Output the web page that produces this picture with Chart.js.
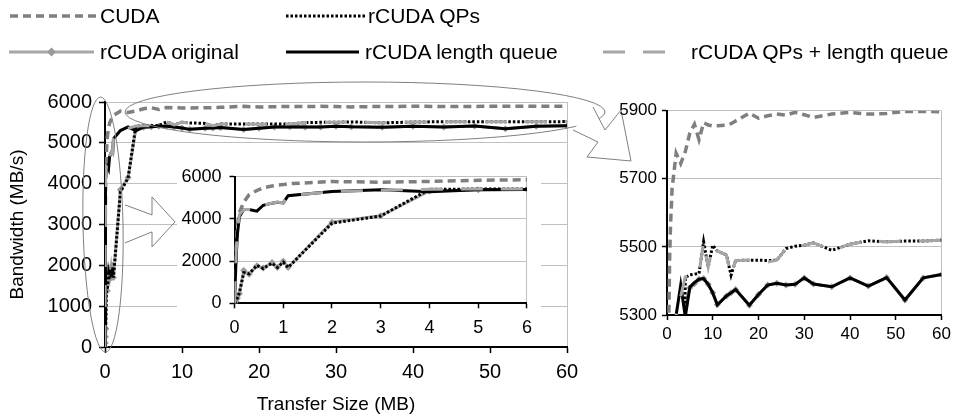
<!DOCTYPE html>
<html><head><meta charset="utf-8">
<script src="https://cdn.jsdelivr.net/npm/chart.js@4/dist/chart.umd.min.js"></script>
<style>
html,body{margin:0;padding:0;background:#fff;}
body{width:955px;height:419px;position:relative;overflow:hidden;font-family:"Liberation Sans",Arial,sans-serif;}
canvas{display:block;}
#main{position:absolute;left:0;top:0;}
#insetWrap{position:absolute;left:177px;top:158px;width:364px;height:180px;background:#fff;}
#zoomWrap{position:absolute;left:600px;top:90px;width:355px;height:270px;}
.leg{position:absolute;font-size:21px;line-height:24px;color:#000;white-space:nowrap;}
.legline{position:absolute;}
</style></head><body>
<canvas id="main" width="955" height="419"></canvas>
<div id="insetWrap"><canvas id="inset" width="364" height="180"></canvas></div>
<div id="zoomWrap"><canvas id="zoom" width="355" height="270"></canvas></div>
<div id="legend"></div>
<script>
// ---------- data ----------
const sizesMB = [0, 0.03, 0.06, 0.1, 0.19, 0.3, 0.46, 0.59, 0.77, 0.88, 1, 1.1, 2, 3, 4, 5, 6, 7, 8, 9, 10, 11, 13, 14, 15, 18, 20, 22, 24, 26, 28, 30, 32, 36, 40, 44, 48, 52, 56, 60];
const cudaBW = [0, 2600, 3700, 4300, 4800, 5150, 5350, 5480, 5560, 5600, 5630, 5670, 5775, 5745, 5780, 5835, 5860, 5815, 5865, 5858, 5855, 5856, 5858, 5862, 5870, 5893, 5878, 5885, 5890, 5887, 5895, 5888, 5880, 5890, 5895, 5890, 5892, 5898, 5898, 5897];
const qpsBW = [0, 100, 250, 500, 1450, 1400, 1800, 1650, 1900, 1700, 1950, 1700, 3800, 4140, 5410, 5418, 5420, 5422, 5515, 5441, 5505, 5488, 5476, 5417, 5460, 5461, 5461, 5460, 5461, 5495, 5502, 5505, 5512, 5490, 5508, 5518, 5515, 5517, 5517, 5520];
const originalBW = [0, 100, 250, 450, 1550, 1380, 1780, 1670, 1930, 1700, 2000, 1700, 3850, 4150, 5330, 5380, 5392, 5405, 5407, 5390, 5365, 5330, 5356, 5365, 5375, 5329, 5360, 5388, 5393, 5388, 5390, 5409, 5391, 5383, 5409, 5385, 5410, 5344, 5409, 5419];
const lengthQueueBW = [0, 2000, 3300, 4100, 4450, 4450, 4370, 4650, 4750, 4790, 4760, 5100, 5300, 5388, 5295, 5382, 5395, 5405, 5407, 5390, 5365, 5330, 5356, 5365, 5375, 5329, 5360, 5388, 5393, 5388, 5390, 5409, 5391, 5383, 5409, 5385, 5410, 5344, 5409, 5419];
const qpsLengthQueueBW = [0, 2300, 3500, 4200, 4450, 4450, 4350, 4650, 4750, 4800, 4760, 5100, 5300, 5355, 5412, 5418, 5420, 5422, 5515, 5441, 5505, 5488, 5476, 5417, 5460, 5461, 5455, 5455, 5461, 5495, 5502, 5505, 5512, 5490, 5508, 5518, 5515, 5517, 5517, 5520];
const seriesNames = ['CUDA', 'rCUDA QPs', 'rCUDA original', 'rCUDA length queue', 'rCUDA QPs + length queue'];
const mainXTicks = [0, 10, 20, 30, 40, 50, 60];
const mainYTicks = [0, 1000, 2000, 3000, 4000, 5000, 6000];
const insetXTicks = [0, 1, 2, 3, 4, 5, 6];
const insetYTicks = [0, 2000, 4000, 6000];
const zoomXTicks = [0, 10, 20, 30, 40, 50, 60];
const zoomYTicks = [5300, 5500, 5700, 5900];
const xTitle = 'Transfer Size (MB)';
const yTitle = 'Bandwidth (MB/s)';

// ---------- styles ----------
const FONT = "'Liberation Sans', Arial, sans-serif";
const GRID = '#c0c0c0';
const STY = [
  {color: '#7f7f7f', dash: [8, 5], width: 3.5, order: 4},          // CUDA
  {color: '#000000', dash: [2.5, 2], width: 3, order: 1},           // QPs
  {color: '#a6a6a6', dash: [], width: 3, order: 3, point: true},    // original
  {color: '#000000', dash: [], width: 3, order: 2},                 // length queue
  {color: '#a6a6a6', dash: [22, 18], width: 3, order: 0}            // QPs + LQ
];
const SERIES = [cudaBW, qpsBW, originalBW, lengthQueueBW, qpsLengthQueueBW];

Chart.defaults.font.family = FONT;
Chart.defaults.color = '#000';

function makeDatasets() {
  return SERIES.map((ys, i) => ({
    label: seriesNames[i],
    data: sizesMB.map((x, k) => ({x: x, y: ys[k]})),
    borderColor: STY[i].color,
    borderDash: STY[i].dash,
    borderWidth: STY[i].width,
    borderCapStyle: 'butt',
    borderJoinStyle: 'miter',
    tension: 0,
    fill: false,
    order: STY[i].order,
    pointRadius: STY[i].point ? 3.5 : 0,
    pointStyle: 'rectRot',
    pointBackgroundColor: '#999999',
    pointBorderColor: '#999999',
    pointBorderWidth: 0
  }));
}

function makeScales(o) {
  const xl = o.xt[o.xt.length - 1];
  const x = {
    type: 'linear', min: o.xt[0], max: xl,
    afterBuildTicks: s => { s.ticks = o.xt.map(v => ({value: v})); },
    afterFit: s => { s.height = o.xh; },
    ticks: {font: {size: o.fs}, color: '#000', padding: o.xpad, maxRotation: 0, autoSkip: false, callback: v => String(v)},
    grid: {drawOnChartArea: true, color: c => (c.tick && c.tick.value === xl) ? GRID : 'rgba(0,0,0,0)',
           lineWidth: 1, tickColor: '#000', tickLength: o.tl, tickWidth: 1.5},
    border: {color: '#000', width: 2}
  };
  const y = {
    type: 'linear', min: o.yt[0], max: o.yt[o.yt.length - 1],
    afterBuildTicks: s => { s.ticks = o.yt.map(v => ({value: v})); },
    afterFit: s => { s.width = o.yw; },
    ticks: {font: {size: o.fs}, color: '#000', padding: o.ypad, callback: v => String(v)},
    grid: {color: GRID, lineWidth: 1, tickColor: '#000', tickLength: o.tl, tickWidth: 1.5},
    border: {color: '#000', width: 2}
  };
  if (o.titles) {
    x.title = {display: true, text: xTitle, font: {size: 19}, color: '#000', padding: {top: 0, bottom: 2.5}};
    y.title = {display: true, text: yTitle, font: {size: 19}, color: '#000', padding: {top: 6.5, bottom: 0}};
  }
  return {x: x, y: y};
}

function baseOptions(o, pad) {
  return {
    responsive: false, animation: false, devicePixelRatio: 1, events: [],
    layout: {padding: pad},
    plugins: {legend: {display: false}, tooltip: {enabled: false}, title: {display: false}},
    scales: makeScales(o)
  };
}

// decorations (ellipses and block arrows) of the main chart
const decoPlugin = {
  id: 'deco',
  afterDraw(chart) {
    const {ctx} = chart;
    const xs = chart.scales.x, ys = chart.scales.y;
    const x0 = xs.getPixelForValue(0);
    const yTop = ys.getPixelForValue(6000), yBot = ys.getPixelForValue(0);
    const yMid = (yTop + yBot) / 2;
    ctx.save();
    ctx.strokeStyle = '#7f7f7f';
    ctx.lineWidth = 1;
    // tall ellipse around the start of the curves
    ctx.beginPath();
    ctx.ellipse(x0 - 2, yMid, 20, (yBot - yTop) / 2 + 5, -0.02, 0, Math.PI * 2);
    ctx.stroke();
    // arrow to the inset
    const la = [[20, -19.6], [47, -9.6], [47, -27.6], [70, -2.6], [47, 22.4], [47, 7.4], [20, 18.4]];
    ctx.beginPath();
    la.forEach((p, i) => { const px = x0 + p[0], py = yMid + p[1]; i ? ctx.lineTo(px, py) : ctx.moveTo(px, py); });
    ctx.stroke();
    // wide ellipse around the plateau
    const ex = 365, ey = 112;
    ctx.beginPath();
    ctx.ellipse(ex, ey, 240, 30, 0, 0, Math.PI * 2);
    ctx.stroke();
    // arrow to the zoomed chart
    const ra = [[573, 130], [598, 142], [587, 157], [631, 161], [621, 110], [605, 130], [593, 107]];
    ctx.beginPath();
    ra.forEach((p, i) => i ? ctx.lineTo(p[0], p[1]) : ctx.moveTo(p[0], p[1]));
    ctx.closePath();
    ctx.fillStyle = '#fff';
    ctx.fill();
    ctx.beginPath();
    ra.forEach((p, i) => i ? ctx.lineTo(p[0], p[1]) : ctx.moveTo(p[0], p[1]));
    ctx.stroke();
    ctx.restore();
  }
};

new Chart(document.getElementById('main'), {
  type: 'line',
  data: {datasets: makeDatasets()},
  options: baseOptions({xt: mainXTicks, yt: mainYTicks, fs: 20, tl: 6, xpad: 7, ypad: 7, xh: 72, yw: 105, titles: true},
                       {top: 102, right: 388, left: 0, bottom: 0}),
  plugins: [decoPlugin]
});

new Chart(document.getElementById('inset'), {
  type: 'line',
  data: {datasets: makeDatasets()},
  options: baseOptions({xt: insetXTicks, yt: insetYTicks, fs: 18, tl: 5, xpad: 9, ypad: 8, xh: 34.7, yw: 57.5},
                       {top: 12, right: 5, left: 0, bottom: 0})
});

new Chart(document.getElementById('zoom'), {
  type: 'line',
  data: {datasets: makeDatasets()},
  options: baseOptions({xt: zoomXTicks, yt: zoomYTicks, fs: 17, tl: 5, xpad: 4, ypad: 5, xh: 45, yw: 67},
                       {top: 20.7, right: 11, left: 0, bottom: 0})
});

// ---------- legend (HTML) ----------
const legendPos = [
  {x: 10, len: 87, tx: 100, y: 16},
  {x: 286, len: 79, tx: 368, y: 16},
  {x: 9, len: 85, tx: 100, y: 52},
  {x: 286, len: 73, tx: 365, y: 52},
  {x: 603, len: 70, tx: 691, y: 52}
];
const legendEl = document.getElementById('legend');
seriesNames.forEach((name, i) => {
  const p = legendPos[i], s = STY[i];
  const ns = 'http://www.w3.org/2000/svg';
  const svg = document.createElementNS(ns, 'svg');
  svg.setAttribute('width', p.len); svg.setAttribute('height', 12);
  svg.setAttribute('class', 'legline');
  svg.style.left = p.x + 'px'; svg.style.top = (p.y - 6) + 'px';
  const ln = document.createElementNS(ns, 'line');
  ln.setAttribute('x1', 0); ln.setAttribute('x2', p.len); ln.setAttribute('y1', 6); ln.setAttribute('y2', 6);
  ln.setAttribute('stroke', s.color); ln.setAttribute('stroke-width', s.width);
  if (s.dash.length) ln.setAttribute('stroke-dasharray', s.dash.join(' '));
  svg.appendChild(ln);
  if (s.point) {
    const c = p.len / 2;
    const d = document.createElementNS(ns, 'polygon');
    d.setAttribute('points', `${c},1.5 ${c + 4.5},6 ${c},10.5 ${c - 4.5},6`);
    d.setAttribute('fill', '#999999');
    svg.appendChild(d);
  }
  legendEl.appendChild(svg);
  const t = document.createElement('div');
  t.className = 'leg';
  t.textContent = name;
  t.style.left = p.tx + 'px'; t.style.top = (p.y - 12) + 'px';
  legendEl.appendChild(t);
});
</script>
</body></html>
